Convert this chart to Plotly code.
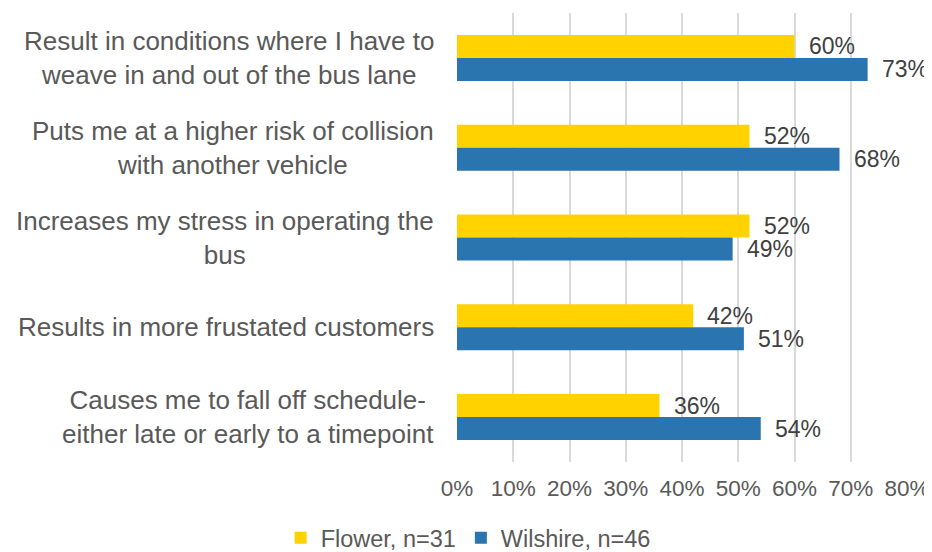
import plotly.graph_objects as go

categories = [
    "Result in conditions where I have to<br>weave in and out of the bus lane",
    "Puts me at a higher risk of collision<br>with another vehicle",
    "Increases my stress in operating the<br>bus",
    "Results in more frustated customers",
    "Causes me to fall off schedule-<br>either late or early to a timepoint",
]
cat_keys = ["c1", "c2", "c3", "c4", "c5"]
flower = [0.60, 0.52, 0.52, 0.42, 0.36]
wilshire = [0.73, 0.68, 0.49, 0.51, 0.54]
series_names = ["Flower, n=31", "Wilshire, n=46"]
colors = ["#FFD200", "#2A75AF"]
tick_vals = [0, 0.1, 0.2, 0.3, 0.4, 0.5, 0.6, 0.7, 0.8]
tick_text = ["0%", "10%", "20%", "30%", "40%", "50%", "60%", "70%", "80%"]

FONT = "Liberation Sans, Arial, sans-serif"

fig = go.Figure()
for name, vals, col in zip(series_names, [flower, wilshire], colors):
    fig.add_trace(go.Bar(
        y=cat_keys, x=vals, name=name, orientation="h",
        marker=dict(color=col, line=dict(width=0)),
    ))

annotations = []
# data labels
for vals, shift in [(flower, 11.5), (wilshire, -11.5)]:
    for k, v in zip(cat_keys, vals):
        annotations.append(dict(
            x=v, y=k, xref="x", yref="y", text=f"{round(v*100)}%",
            showarrow=False, xanchor="left", yanchor="middle",
            xshift=12, yshift=shift,
            font=dict(family=FONT, size=23, color="#404040"),
        ))
# category labels
for k, lab in zip(cat_keys, categories):
    annotations.append(dict(
        x=0, y=k, xref="paper", yref="y", text=lab,
        showarrow=False, xanchor="right", yanchor="middle", align="center",
        xshift=-21,
        font=dict(family=FONT, size=26, color="#595959"),
    ))

fig.update_layout(
    width=924, height=544,
    margin=dict(l=449, r=25, t=5, b=90, autoexpand=False),
    plot_bgcolor="white", paper_bgcolor="white",
    barmode="group", bargap=0.488, bargroupgap=0,
    font=dict(family=FONT, color="#595959"),
    xaxis=dict(
        range=[0, 0.8], tickvals=tick_vals, ticktext=tick_text,
        showgrid=True, gridcolor="#D9D9D9", gridwidth=1.5,
        zeroline=False, showline=False, automargin=False,
        tickfont=dict(family=FONT, size=22.5, color="#595959"),
        ticks="", ticklabelstandoff=10,
    ),
    yaxis=dict(
        categoryorder="array", categoryarray=cat_keys, autorange="reversed",
        showticklabels=False, showgrid=False, zeroline=False, showline=False,
        automargin=False,
    ),
    legend=dict(
        orientation="h", xref="container", x=0.498, xanchor="center",
        yref="container", y=0.026, yanchor="middle",
        font=dict(family=FONT, size=23.5, color="#595959"),
        traceorder="normal",
    ),
    annotations=annotations,
    showlegend=True,
)

fig.write_html("out.html")
